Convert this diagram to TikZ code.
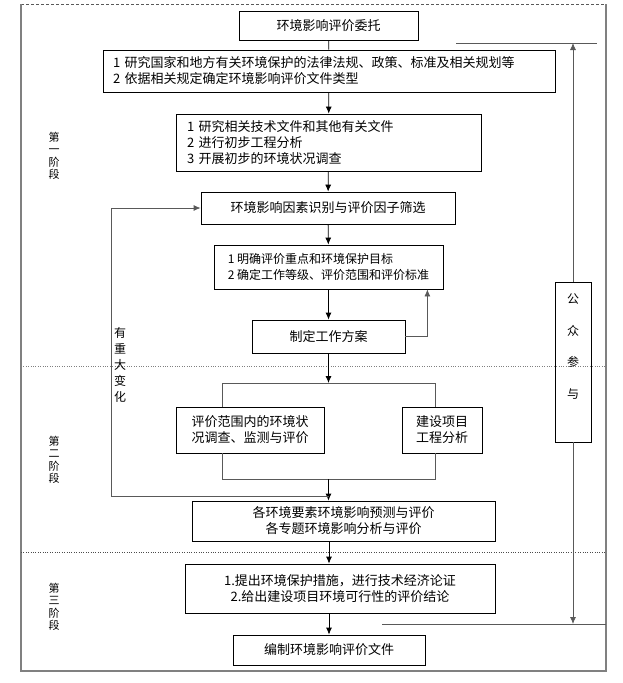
\documentclass[tikz,border=0pt]{standalone}
\usepackage{fontspec}
\setmainfont{Noto Sans CJK SC}
\usetikzlibrary{arrows.meta,calc,positioning}
\tikzset{
  box/.style={draw, line width=0.8pt, inner sep=0pt, align=center, font=\fontsize{13}{16}\selectfont},
  leftbox/.style={box, align=left},
  arr/.style={-{Latex[length=7pt,width=6pt]}, line width=0.8pt},
  thinline/.style={line width=0.8pt, gray!70!black},
  stage/.style={align=center, font=\fontsize{11}{12.5}\selectfont},
}

\begin{document}
\begin{tikzpicture}[x=1pt, y=-1pt]
\useasboundingbox (0,0) rectangle (623,683);

% frame and stage borders
\draw[gray!70!black, line width=1pt, dash pattern=on 3pt off 2pt] (21,4) -- (606,4);
\draw[gray, line width=1.2pt] (21,4) -- (21,671) -- (606,671) -- (606,4);
\draw[gray, dotted] (21,366) -- (606,366);
\draw[gray!60!black, dotted] (21,552) -- (606,552);

% main boxes
\node[box, minimum width=179pt, minimum height=29pt] (entrust) at (328.5,25.5) {环境影响评价委托};
\node[leftbox, text width=432pt, inner xsep=10pt, minimum height=42pt] (laws) at (329,71)
  {1 研究国家和地方有关环境保护的法律法规、政策、标准及相关规划等\\2 依据相关规定确定环境影响评价文件类型};
\node[leftbox, text width=283pt, inner xsep=11pt, minimum height=57pt] (study) at (328.5,142.5)
  {1 研究相关技术文件和其他有关文件\\2 进行初步工程分析\\3 开展初步的环境状况调查};
\node[box, minimum width=254pt, minimum height=32pt] (factor) at (328,208) {环境影响因素识别与评价因子筛选};
\node[leftbox, minimum width=229pt, minimum height=44pt, font=\fontsize{12}{16}\selectfont] (target) at (328.5,267)
  {1 明确评价重点和环境保护目标\\2 确定工作等级、评价范围和评价标准};
\node[box, minimum width=153pt, minimum height=33pt] (plan) at (328.5,336.5) {制定工作方案};
\node[box, minimum width=148pt, minimum height=46pt] (survey) at (250,430) {评价范围内的环境状\\况调查、监测与评价};
\node[box, minimum width=80pt, minimum height=46pt] (project) at (442,430) {建设项目\\工程分析};
\node[box, minimum width=303pt, minimum height=40pt] (predict) at (343.5,521)
  {各环境要素环境影响预测与评价\\各专题环境影响分析与评价};
\node[box, minimum width=310pt, minimum height=49pt] (measure) at (340,588.5)
  {1.提出环境保护措施，进行技术经济论证\\2.给出建设项目环境可行性的评价结论};
\node[box, minimum width=192pt, minimum height=30pt] (report) at (329,650) {编制环境影响评价文件};
\node[box, minimum width=36pt, minimum height=160pt, font=\fontsize{12}{31.7}\selectfont] (public) at (573,362)
  {公\\众\\参\\与\\\mbox{}};

% side labels
\node[stage] (stage1) at (54,156) {第\\一\\阶\\段};
\node[stage] (stage2) at (54,460) {第\\二\\阶\\段};
\node[stage] (stage3) at (54,607) {第\\三\\阶\\段};
\node[stage, font=\fontsize{12}{16}\selectfont] (change) at (120,365) {有\\重\\大\\变\\化};

% helper points
\coordinate (split) at (328.5,383);
\coordinate (splitL) at (222,383);
\coordinate (splitR) at (435,383);
\coordinate (merge) at (328.5,479);
\coordinate (mergeL) at (222,479);
\coordinate (mergeR) at (435,479);
\coordinate (back) at (328.5,496);
\coordinate (backL) at (111,496);
\coordinate (pubTop) at (573,43);
\coordinate (pubBot) at (573,624);
\coordinate (topL) at (456,43);
\coordinate (topR) at (597,43);
\coordinate (botL) at (382,624);
\coordinate (botR) at (606,624);

% connectors
\draw[line width=0.8pt] (entrust) -- (laws);
\draw[arr] (laws) -- (study);
\draw[arr] (study) -- (factor);
\draw[arr] (factor) -- (target);
\draw[arr] (target) -- (plan);
\draw[arr, thinline] (plan.east) -| ($(target.south east)+(-16,0)$);
\draw[arr] (plan) -- (split);
\draw[thinline] (survey.north -| splitL) -- (splitL) -- (splitR) -- (project.north -| splitR);
\draw[thinline] (survey.south -| mergeL) -- (mergeL) -- (mergeR) -- (project.south -| mergeR);
\draw[arr] (merge) -- (predict.north -| merge);
\draw[arr, thinline] (back) -- (backL) |- (factor.west);
\draw[arr] (predict.south -| report) -- (measure.north -| report);
\draw[arr] (measure.south -| report) -- (report);

% public participation
\draw[arr, thinline] (public) -- (pubTop);
\draw[thinline] (topL) -- (topR);
\draw[arr, thinline] (public) -- (pubBot);
\draw[thinline] (botL) -- (botR);
\end{tikzpicture}
\end{document}
